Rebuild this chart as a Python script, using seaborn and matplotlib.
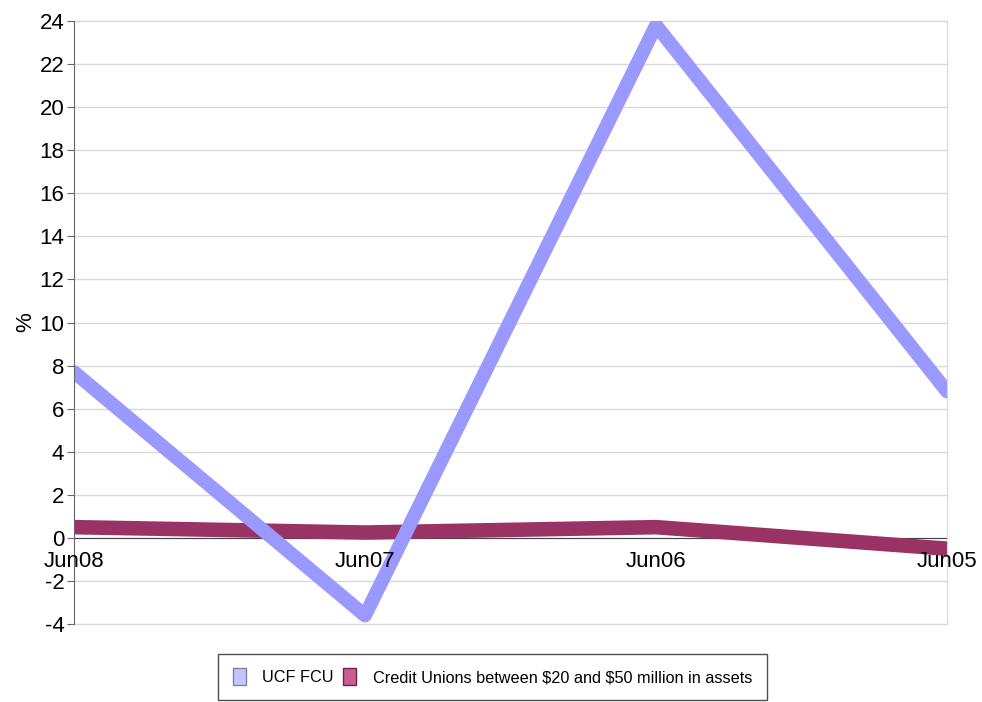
import pandas as pd
import matplotlib
matplotlib.use("Agg")
import matplotlib.pyplot as plt
import seaborn as sns
from matplotlib.patches import Patch

periods = ["Jun08", "Jun07", "Jun06", "Jun05"]
ucf_fcu = [7.7, -3.6, 23.8, 6.8]
peer_group = [0.5, 0.25, 0.5, -0.5]
series_names = ["UCF FCU", "Credit Unions between \\$20 and \\$50 million in assets"]
y_ticks = list(range(-4, 25, 2))

sns.set_style("white")
plt.rcParams["font.family"] = ["Liberation Sans", "DejaVu Sans"]
plt.rcParams["axes.unicode_minus"] = False
plt.rcParams["text.color"] = "black"
plt.rcParams["axes.labelcolor"] = "black"
plt.rcParams["xtick.color"] = "black"
plt.rcParams["ytick.color"] = "black"

df = pd.DataFrame({
    "period": periods * 2,
    "pos": list(range(len(periods))) * 2,
    "value": ucf_fcu + peer_group,
    "series": [series_names[0]] * len(periods) + [series_names[1]] * len(periods),
})

fig = plt.figure(figsize=(9.82, 7.02), dpi=100)
ax = fig.add_axes([0.0754, 0.111, 0.889, 0.859])

# horizontal grid drawn by hand so tick labels can stay above the lines
for t in y_ticks:
    ax.axhline(t, color="#d9d9d9", lw=1, zorder=0.5, clip_on=False)

# peer group drawn first so the UCF line sits on top
sns.lineplot(data=df[df.series == series_names[1]], x="pos", y="value",
             color="#993366", lw=10.5, solid_joinstyle="round", ax=ax, legend=False, zorder=1.5)
sns.lineplot(data=df[df.series == series_names[0]], x="pos", y="value",
             color="#9999ff", lw=10, solid_joinstyle="round", ax=ax, legend=False, zorder=1.6)

ax.set_xlim(0, len(periods) - 1)
ax.set_ylim(-4, 24)
ax.set_yticks(y_ticks)
ax.set_xticks(range(len(periods)))
ax.set_xticklabels(periods)
ax.set_xlabel("")
ax.set_ylabel("%", fontsize=16, labelpad=2)

ax.set_axisbelow(False)
ax.spines["bottom"].set_position(("data", 0))
ax.spines["bottom"].set_color("#444444")
ax.spines["bottom"].set_zorder(1)
ax.spines["left"].set_color("#666666")
ax.spines["right"].set_color("#d9d9d9")
ax.spines["top"].set_visible(False)

ax.tick_params(axis="y", left=True, length=5, color="#666666", labelcolor="black",
               labelsize=16, pad=2)
ax.tick_params(axis="x", bottom=False, labelcolor="black", labelsize=16, pad=6)

handles = [Patch(facecolor="#c4c4ff", edgecolor="#8080a0", lw=1),
           Patch(facecolor="#cc5c94", edgecolor="#6b2347", lw=1)]
leg = fig.legend(handles, series_names, loc="center", bbox_to_anchor=(0.5015, 0.036),
                 ncol=2, fontsize=11.7, frameon=True, fancybox=False,
                 handlelength=0.8, handleheight=1.2, handletextpad=1.0,
                 columnspacing=0.6, borderpad=0.9)
leg.get_frame().set_edgecolor("#222222")
leg.get_frame().set_linewidth(1)

fig.savefig("out.png", dpi=100)
